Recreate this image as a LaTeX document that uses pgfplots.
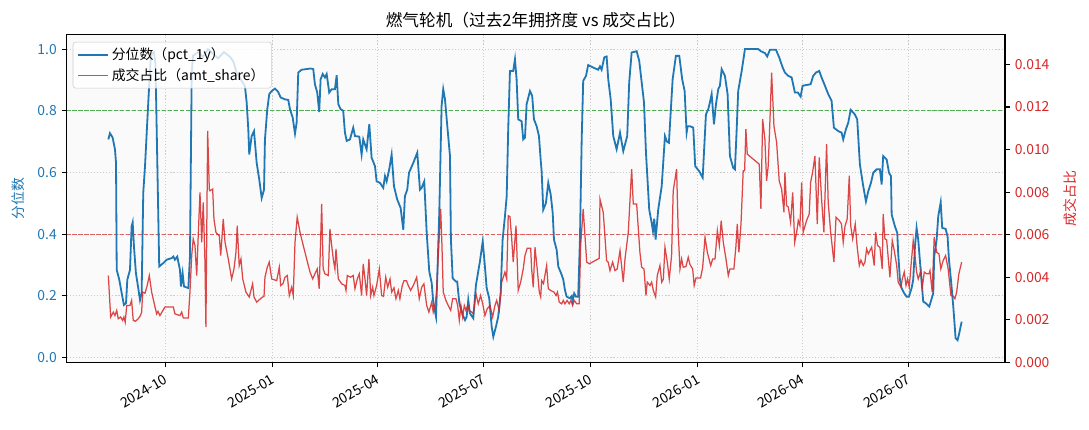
\documentclass[border=0pt]{standalone}
\usepackage{fontspec}
\setmainfont{Noto Sans CJK SC}
\usepackage{pgfplots}
\pgfplotsset{compat=1.18}
\definecolor{tabblue}{HTML}{1F77B4}
\definecolor{tabred}{HTML}{D62728}
\definecolor{tabgreen}{HTML}{2CA02C}

\pgfplotsset{
  base/.style={
    scale only axis, width=675.7pt, height=236pt,
    xmin=-84.8, xmax=721.1,
    at={(0,0)}, anchor=south west,
    tick align=outside, major tick length=3.5pt,
    every tick/.style={black, line width=0.8pt},
    tick label style={font=\fontsize{10}{12}\selectfont},
    /pgf/number format/assume math mode=true,
    axis line style={line width=0.8pt},
  }
}

\begin{document}
\begin{tikzpicture}
\begin{axis}[base,
  ymin=-0.016, ymax=1.047,
  axis background/.style={fill=black!2},
  xtick={0,92,182,273,365,457,547,638},
  xticklabels={2024-10,2025-01,2025-04,2025-07,2025-10,2026-01,2026-04,2026-07},
  xtick pos=bottom, ytick pos=left,
  ytick={0,0.2,0.4,0.6,0.8,1.0},
  yticklabel style={text=tabblue, /pgf/number format/fixed, /pgf/number format/fixed zerofill, /pgf/number format/precision=1},
  xticklabel style={rotate=30, anchor=north east},
  grid=major, major grid style={dash pattern=on 0.8pt off 1.4pt, black!20, line width=0.6pt},
  ylabel={分位数},
  every axis y label/.style={at={(axis description cs:-0.0517,0.5)}, anchor=center, rotate=90, text=tabblue, font=\fontsize{10}{12}\selectfont},
  title={燃气轮机（过去2年拥挤度 vs 成交占比）},
  every axis title/.style={at={(axis description cs:0.5,1.0443)}, anchor=center, font=\fontsize{12}{14}\selectfont},
]
\addplot[tabgreen, opacity=0.8, line width=0.8pt, dash pattern=on 3pt off 1.3pt, forget plot] coordinates {(-84.8,0.8) (721.1,0.8)};
\addplot[tabred, opacity=0.7, line width=0.8pt, dash pattern=on 3pt off 1.3pt, forget plot] coordinates {(-84.8,0.4) (721.1,0.4)};
% pct_1y
\addplot[tabblue, line width=1.3pt] coordinates {
(-48.9,0.707) (-47.5,0.727) (-45.2,0.713) (-43.2,0.675) (-42.3,0.631) (-41.7,0.284) (-39.5,0.252) (-37.4,0.208) (-35.5,0.170) (-33.7,0.176) (-32.6,0.252) (-30.3,0.284) (-28.9,0.425) (-28.0,0.438) (-26.9,0.360) (-25.2,0.273) (-23.2,0.225) (-21.7,0.186) (-20.3,0.208) (-18.9,0.534) (-17.4,0.620) (-15.5,0.761) (-13.7,0.892) (-12.5,0.967) (-11.4,0.985) (-9.7,0.99) (-8.4,0.95) (-5.2,0.295) (-1.7,0.306) (1.2,0.317) (5.5,0.322) (6.9,0.327) (8.3,0.317) (10.3,0.327) (12.6,0.284) (13.5,0.230) (14.9,0.273) (16.1,0.230) (19.8,0.225) (21.2,0.327) (22.7,0.924) (23.8,0.978) (28.1,0.99) (32.4,0.975) (36.7,1.0) (41.0,0.985) (45.3,0.97) (50.4,0.99) (55.6,0.975) (58.4,0.96) (61.3,0.924) (68.4,0.88) (69.9,0.827) (71.3,0.74) (72.1,0.658) (74.2,0.718) (76.2,0.734) (78.5,0.631) (80.7,0.577) (82.8,0.517) (84.8,0.544) (85.6,0.707) (87.6,0.805) (89.3,0.854) (91.4,0.864) (94.2,0.872) (96.8,0.862) (99.1,0.843) (102.8,0.837) (105.6,0.835) (107.1,0.805) (109.4,0.778) (111.4,0.726) (112.8,0.761) (114.2,0.924) (117.1,0.933) (124.9,0.937) (127.1,0.935) (128.5,0.886) (130.5,0.859) (132.2,0.796) (133.4,0.902) (135.2,0.919) (137.1,0.908) (138.6,0.919) (140.8,0.859) (142.9,0.87) (145.7,0.87) (147.2,0.915) (148.6,0.821) (150.6,0.805) (152.8,0.80) (154.3,0.729) (155.8,0.702) (158.6,0.707) (161.4,0.745) (162.9,0.718) (166.6,0.716) (168.6,0.658) (170.0,0.707) (172.9,0.675) (175.2,0.756) (177.2,0.648) (180.1,0.62) (181.5,0.571) (184.4,0.566) (187.2,0.55) (188.7,0.588) (190.1,0.571) (192.3,0.61) (194.4,0.658) (196.4,0.555) (199.2,0.512) (202.1,0.485) (204.4,0.414) (205.8,0.523) (207.8,0.544) (209.3,0.599) (213.0,0.631) (216.4,0.664) (218.7,0.544) (220.2,0.55) (222.4,0.571) (224.5,0.404) (226.7,0.279) (228.8,0.241) (230.1,0.18) (232.5,0.132) (235.3,0.469) (237.3,0.816) (238.7,0.87) (240.2,0.837) (242.2,0.75) (244.5,0.653) (245.3,0.382) (246.8,0.257) (249.6,0.246) (250.7,0.246) (252.5,0.176) (255.4,0.138) (257.4,0.121) (258.8,0.132) (260.2,0.186) (261.6,0.143) (264.5,0.127) (266.8,0.235) (270.2,0.311) (272.6,0.376) (274.5,0.295) (276.0,0.225) (278.2,0.192) (280.3,0.10) (281.7,0.067) (284.0,0.10) (285.9,0.132) (288.0,0.208) (289.7,0.382) (291.7,0.458) (293.2,0.523) (294.5,0.74) (296.0,0.929) (298.8,0.929) (300.3,0.967) (301.7,0.902) (303.1,0.772) (306.0,0.766) (307.4,0.707) (308.9,0.713) (310.3,0.821) (313.2,0.864) (315.1,0.848) (316.6,0.772) (318.9,0.75) (320.9,0.718) (322.4,0.64) (323.2,0.604) (324.6,0.479) (326.9,0.501) (328.9,0.566) (331.0,0.528) (332.7,0.469) (333.8,0.382) (336.1,0.349) (337.5,0.295) (340.4,0.268) (341.8,0.252) (343.2,0.219) (344.7,0.197) (347.5,0.192) (349.0,0.199) (349.8,0.181) (351.2,0.208) (352.7,0.197) (354.6,0.197) (356.1,0.382) (357.6,0.707) (358.9,0.897) (361.3,0.913) (363.2,0.948) (367.5,0.94) (371.8,0.933) (373.3,0.944) (374.7,0.933) (377.0,0.973) (379.0,0.976) (380.4,0.902) (382.5,0.837) (384.7,0.718) (387.6,0.675) (390.5,0.729) (393.3,0.669) (396.7,0.718) (398.4,0.892) (400.5,0.989) (404.8,0.993) (407.0,0.962) (411.1,0.827) (412.8,0.664) (415.6,0.479) (417.7,0.436) (418.8,0.41) (419.9,0.45) (421.1,0.382) (423.3,0.479) (426.3,0.555) (429.1,0.718) (430.8,0.70) (432.5,0.696) (435.7,0.902) (438.5,0.978) (441.4,0.978) (443.9,0.902) (446.0,0.864) (447.7,0.729) (448.6,0.75) (450.6,0.75) (453.4,0.745) (455.1,0.62) (458.5,0.604) (461.5,0.583) (464.3,0.788) (466.3,0.805) (467.7,0.827) (469.2,0.854) (471.2,0.756) (472.9,0.821) (474.9,0.87) (476.3,0.881) (477.8,0.935) (480.6,0.913) (482.9,0.854) (484.9,0.653) (487.7,0.615) (489.2,0.61) (490.7,0.74) (492.0,0.864) (495.0,0.929) (497.8,1.0) (509.2,1.0) (511.5,0.993) (515.0,0.987) (516.9,0.976) (519.3,0.998) (524.4,0.998) (527.2,0.973) (530.2,0.94) (532.1,0.924) (535.0,0.913) (537.9,0.908) (540.7,0.859) (543.3,0.859) (545.6,0.846) (547.3,0.881) (554.2,0.886) (556.4,0.913) (558.8,0.924) (561.6,0.929) (563.6,0.908) (566.5,0.881) (569.3,0.854) (572.2,0.832) (574.2,0.745) (577.9,0.734) (580.8,0.729) (582.2,0.707) (584.5,0.74) (586.5,0.761) (588.6,0.803) (592.2,0.788) (594.2,0.772) (596.5,0.626) (599.4,0.555) (601.7,0.506) (603.7,0.539) (606.0,0.566) (608.0,0.599) (610.9,0.61) (613.7,0.61) (615.2,0.561) (616.5,0.653) (619.5,0.642) (621.5,0.599) (623.2,0.588) (623.8,0.463) (626.6,0.425) (628.6,0.404) (629.4,0.338) (630.9,0.252) (632.3,0.225) (634.6,0.208) (636.6,0.197) (638.6,0.197) (640.9,0.225) (642.3,0.252) (643.8,0.36) (645.2,0.42) (646.6,0.382) (648.9,0.273) (650.9,0.181) (653.0,0.176) (656.1,0.165) (659.5,0.208) (660.3,0.327) (662.4,0.382) (663.8,0.458) (665.9,0.503) (667.2,0.42) (670.1,0.417) (671.8,0.392) (673.0,0.317) (674.7,0.252) (676.7,0.165) (678.7,0.062) (680.4,0.056) (681.8,0.078) (683.9,0.116)
};
\end{axis}
\begin{axis}[base,
  ymin=0, ymax=0.0154,
  axis x line=none, axis y line*=right,
  scaled y ticks=false,
  ytick={0,0.002,0.004,0.006,0.008,0.010,0.012,0.014},
  yticklabel style={text=tabred, /pgf/number format/fixed, /pgf/number format/fixed zerofill, /pgf/number format/precision=3},
  ylabel={成交占比},
  every axis y label/.style={at={(axis description cs:1.0693,0.5)}, anchor=center, rotate=90, text=tabred, font=\fontsize{10}{12}\selectfont},
  legend cell align=left,
  legend image code/.code={\draw[#1] (0pt,0pt) -- (21.6pt,0pt);},
  legend style={at={(axis description cs:0.0066,0.978)}, anchor=north west, draw=black!20, fill=white, fill opacity=0.8, draw opacity=1, text opacity=1, rounded corners=2pt, font=\fontsize{10}{12}\selectfont, inner xsep=3pt, inner ysep=2pt, row sep=1pt},
]
\addlegendimage{tabblue, line width=1.3pt}
\addlegendentry{分位数（pct\_1y）}
% amt_share
\addplot[tabred, opacity=0.85, line width=0.9pt] coordinates {
(-48.9,0.00408) (-46.9,0.00213) (-44.6,0.00236) (-43.2,0.00220) (-41.7,0.00244) (-40.4,0.00205) (-38.3,0.00213) (-36.6,0.00197) (-35.5,0.00213) (-34.4,0.00189) (-33.1,0.00267) (-30.3,0.00267) (-28.9,0.00291) (-27.5,0.00197) (-25.6,0.00193) (-23.2,0.00205) (-21.3,0.00220) (-20.3,0.00236) (-19.4,0.00330) (-17.4,0.00325) (-15.5,0.00361) (-13.7,0.00408) (-11.7,0.00330) (-8.8,0.00260) (-7.4,0.00228) (-6.3,0.00240) (-4.6,0.00220) (-0.3,0.00260) (6.9,0.00260) (8.3,0.00228) (12.6,0.00220) (14.1,0.00236) (15.5,0.00208) (19.8,0.00208) (21.2,0.00330) (22.7,0.00502) (24.0,0.00580) (25.5,0.00549) (27.0,0.00408) (28.3,0.00595) (29.8,0.00799) (31.3,0.00564) (32.6,0.00752) (34.1,0.00471) (34.9,0.00166) (36.4,0.01088) (37.8,0.00814) (38.4,0.00806) (40.7,0.00814) (41.8,0.00674) (43.5,0.00611) (46.4,0.00595) (47.6,0.00502) (49.8,0.00674) (51.3,0.00564) (54.1,0.00486) (57.0,0.00392) (59.0,0.00439) (60.7,0.00517) (61.8,0.00642) (63.5,0.00455) (65.0,0.00486) (66.5,0.00392) (69.3,0.00330) (72.1,0.00307) (75.0,0.00369) (76.2,0.00307) (78.5,0.00283) (80.9,0.00295) (83.6,0.00307) (84.8,0.00310) (85.6,0.00400) (87.6,0.00447) (89.3,0.00471) (91.4,0.00392) (95.7,0.00384) (97.9,0.00447) (99.1,0.00361) (101.1,0.00370) (102.8,0.00400) (104.8,0.00408) (106.5,0.00314) (108.5,0.00353) (109.9,0.00314) (111.4,0.00564) (113.3,0.00682) (115.7,0.00611) (118.5,0.00549) (121.4,0.00486) (124.3,0.00424) (126.6,0.00392) (128.5,0.00416) (130.5,0.00439) (132.2,0.00346) (134.3,0.00744) (135.6,0.00439) (137.1,0.00416) (140.0,0.00408) (141.4,0.00627) (142.9,0.00549) (144.4,0.00480) (145.7,0.00439) (146.6,0.00533) (148.6,0.00392) (151.5,0.00369) (154.3,0.00361) (155.2,0.00338) (156.3,0.00408) (159.2,0.00400) (161.4,0.00408) (162.9,0.00346) (164.9,0.00392) (166.6,0.00416) (168.6,0.00314) (170.0,0.00463) (171.5,0.00392) (172.9,0.00314) (174.9,0.00486) (176.4,0.00314) (178.1,0.00353) (179.2,0.00314) (181.5,0.00361) (183.8,0.00439) (185.8,0.00314) (187.4,0.00310) (189.3,0.00400) (191.0,0.00353) (193.0,0.00392) (194.4,0.00330) (196.4,0.00350) (198.1,0.00299) (200.1,0.00338) (201.5,0.00299) (203.5,0.00361) (205.0,0.00384) (207.1,0.00384) (208.7,0.00361) (210.7,0.00338) (213.0,0.00361) (215.9,0.00400) (218.1,0.00299) (220.2,0.00353) (222.1,0.00369) (224.5,0.00267) (226.4,0.00236) (228.8,0.00283) (230.1,0.00236) (231.6,0.00267) (233.0,0.00330) (234.4,0.00502) (236.5,0.00721) (237.6,0.00549) (238.7,0.00330) (241.0,0.00291) (243.0,0.00267) (245.1,0.00244) (246.8,0.00299) (249.6,0.00299) (251.1,0.00267) (252.5,0.00197) (253.9,0.00267) (255.4,0.00213) (256.8,0.00267) (258.2,0.00244) (259.7,0.00267) (261.2,0.00244) (263.1,0.00236) (264.5,0.00228) (266.8,0.00322) (268.8,0.00275) (270.8,0.00314) (272.6,0.00275) (274.5,0.00220) (276.5,0.00252) (278.8,0.00267) (281.1,0.00213) (283.1,0.00267) (284.6,0.00291) (286.8,0.00244) (288.9,0.00377) (291.7,0.00424) (293.2,0.00392) (294.5,0.00689) (296.0,0.00685) (297.5,0.00580) (298.8,0.00471) (301.2,0.00642) (303.1,0.00338) (305.2,0.00377) (307.4,0.00439) (308.9,0.00502) (310.8,0.00536) (313.8,0.00536) (314.6,0.00439) (316.0,0.00353) (317.5,0.00541) (319.4,0.00439) (321.2,0.00330) (322.4,0.00307) (323.2,0.00384) (324.8,0.00370) (327.5,0.00455) (328.9,0.00346) (331.0,0.00338) (333.8,0.00330) (335.6,0.00314) (336.8,0.00330) (338.3,0.00283) (340.4,0.00275) (341.8,0.00291) (343.2,0.00275) (345.1,0.00291) (346.9,0.00275) (348.3,0.00291) (349.8,0.00267) (351.2,0.00291) (353.3,0.00275) (355.5,0.00275) (356.7,0.00549) (358.9,0.00721) (361.9,0.00471) (364.1,0.00463) (372.7,0.00489) (373.3,0.00767) (376.1,0.00705) (379.0,0.00478) (380.4,0.00470) (381.9,0.00431) (384.2,0.00471) (386.2,0.00431) (388.1,0.00439) (390.5,0.00525) (393.3,0.00377) (394.8,0.00486) (397.6,0.00611) (400.5,0.00908) (401.9,0.00744) (404.8,0.00744) (407.6,0.00517) (409.1,0.00447) (411.1,0.00439) (412.8,0.00314) (413.9,0.00377) (416.3,0.00361) (417.7,0.00377) (419.1,0.00338) (421.1,0.00307) (422.5,0.00408) (424.8,0.00455) (426.3,0.00377) (427.7,0.00390) (429.1,0.00541) (431.1,0.00471) (432.8,0.00392) (434.8,0.00502) (436.2,0.00806) (439.1,0.00908) (440.5,0.00611) (442.0,0.00439) (443.4,0.00486) (444.8,0.00447) (447.1,0.00450) (449.1,0.00494) (450.6,0.00460) (452.9,0.00439) (454.2,0.00361) (455.7,0.00396) (459.7,0.00396) (461.5,0.00447) (463.5,0.00588) (465.5,0.00517) (468.4,0.00455) (470.1,0.00486) (472.1,0.00486) (474.1,0.00619) (475.8,0.00549) (477.4,0.00666) (479.2,0.00564) (481.5,0.00486) (483.5,0.00408) (484.9,0.00439) (488.3,0.00439) (490.1,0.00549) (491.2,0.00650) (492.6,0.00517) (494.4,0.00650) (496.3,0.00900) (497.5,0.00900) (498.6,0.01096) (499.8,0.00978) (510.1,0.00931) (511.5,0.00721) (513.0,0.01143) (514.9,0.01049) (516.4,0.00853) (517.8,0.00924) (519.3,0.01143) (520.7,0.01361) (522.7,0.01111) (525.0,0.01033) (527.2,0.00853) (529.3,0.00814) (531.3,0.00705) (532.1,0.00893) (533.6,0.00736) (535.0,0.00730) (537.0,0.00658) (538.8,0.00799) (540.5,0.00564) (542.2,0.00611) (543.6,0.00666) (545.0,0.00642) (546.5,0.00846) (547.8,0.00611) (550.7,0.00666) (553.0,0.00697) (554.2,0.00846) (555.9,0.00893) (557.9,0.00970) (559.9,0.00650) (561.6,0.00963) (563.6,0.00767) (565.6,0.00611) (567.9,0.01025) (569.3,0.00752) (571.4,0.00611) (574.2,0.00471) (576.0,0.00682) (578.8,0.00666) (580.7,0.00650) (582.2,0.00564) (583.7,0.00640) (585.6,0.00674) (587.4,0.00877) (588.6,0.00642) (590.3,0.00580) (592.5,0.00650) (594.2,0.00541) (596.0,0.00455) (597.4,0.00480) (599.4,0.00455) (600.8,0.00470) (602.3,0.00533) (603.7,0.00510) (606.6,0.00541) (608.8,0.00455) (610.0,0.00611) (611.7,0.00549) (613.7,0.00540) (615.7,0.00439) (616.5,0.00697) (618.0,0.00580) (619.5,0.00575) (620.9,0.00486) (622.3,0.00400) (624.3,0.00572) (626.2,0.00520) (628.1,0.00455) (629.4,0.00377) (631.8,0.00353) (632.9,0.00392) (634.6,0.00424) (636.1,0.00361) (637.5,0.00392) (638.9,0.00353) (640.4,0.00455) (642.3,0.00572) (643.8,0.00502) (645.2,0.00424) (646.6,0.00392) (648.9,0.00431) (650.1,0.00353) (651.8,0.00424) (653.8,0.00416) (655.8,0.00416) (656.7,0.00431) (658.6,0.00330) (660.3,0.00588) (662.4,0.00517) (664.4,0.00510) (666.0,0.00439) (668.0,0.00478) (670.1,0.00502) (672.3,0.00439) (674.7,0.00314) (676.7,0.00311) (678.1,0.00299) (679.6,0.00330) (681.5,0.00416) (683.9,0.00471)
};
\addlegendentry{成交占比（amt\_share）}
\end{axis}
\pgfresetboundingbox
\path[use as bounding box] (-47.9pt,-48.0pt) rectangle (736.2pt,260.9pt);
\end{tikzpicture}
\end{document}
